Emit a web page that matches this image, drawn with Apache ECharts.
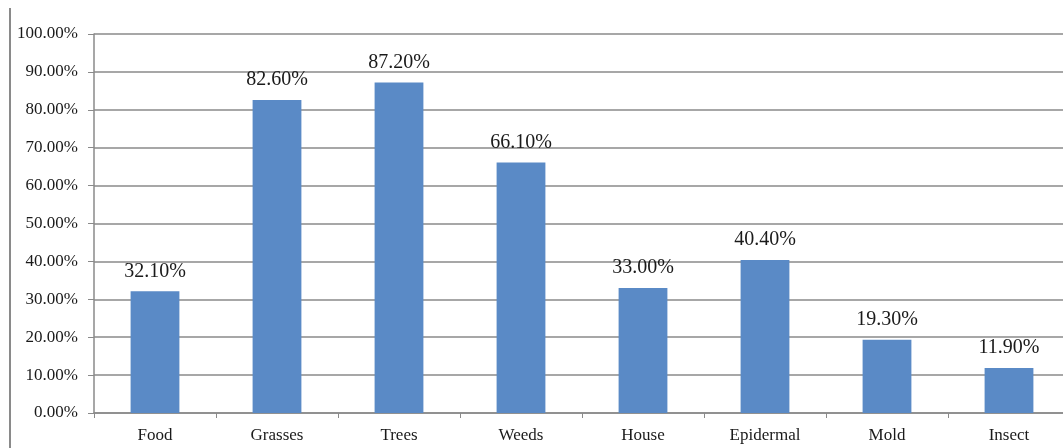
<!DOCTYPE html>
<html>
<head>
<meta charset="utf-8">
<script src="https://cdn.jsdelivr.net/npm/echarts@6/dist/echarts.min.js"></script>
<style>
  html, body { margin: 0; padding: 0; background: #fff; }
  #chart { width: 1063px; height: 448px; }
</style>
</head>
<body>
<div id="chart"></div>
<script>
// categories and values
var categories = ["Food", "Grasses", "Trees", "Weeds", "House", "Epidermal", "Mold", "Insect"];
var rates = [0.321, 0.826, 0.872, 0.661, 0.33, 0.404, 0.193, 0.119];
var yTicks = { min: 0, max: 1, interval: 0.1 };

var fontFamily = "'Liberation Serif', 'DejaVu Serif', serif";
var myChart = echarts.init(document.getElementById("chart"));

var option = {
  animation: false,
  textStyle: { fontFamily: fontFamily },
  // plot area runs a bit past the right edge, like the original
  grid: {
    left: 94,
    width: 976,
    top: 34,
    bottom: 35,
    outerBoundsMode: "none",
  },
  graphic: [
    {
      type: "line",
      shape: { x1: 10, y1: 8, x2: 10, y2: 448 },
      style: { stroke: "#8a8a8a", lineWidth: 2 },
    },
  ],
  xAxis: {
    type: "category",
    data: categories,
    axisLine: { lineStyle: { color: "#8a8a8a", width: 1.5 } },
    axisTick: { show: true, length: 5, lineStyle: { color: "#8a8a8a" } },
    axisLabel: {
      color: "#1a1a1a",
      fontSize: 17,
      fontFamily: fontFamily,
      margin: 14,
    },
  },
  yAxis: {
    type: "value",
    min: yTicks.min,
    max: yTicks.max,
    interval: yTicks.interval,
    axisLine: { show: true, lineStyle: { color: "#8a8a8a", width: 1.5 } },
    axisTick: { show: true, length: 6, lineStyle: { color: "#8a8a8a" } },
    splitLine: { lineStyle: { color: "#8a8a8a", width: 1.5 } },
    axisLabel: {
      color: "#1a1a1a",
      fontSize: 17,
      fontFamily: fontFamily,
      margin: 16,
      formatter: function (v) {
        return (v * 100).toFixed(2) + "%";
      },
    },
  },
  series: [
    {
      type: "bar",
      data: rates,
      barWidth: "40%",
      itemStyle: { color: "#5a8ac6" },
      label: {
        show: true,
        position: "top",
        distance: 10,
        color: "#1a1a1a",
        fontSize: 20,
        fontFamily: fontFamily,
        formatter: function (p) {
          return (p.value * 100).toFixed(2) + "%";
        },
      },
    },
  ],
};

myChart.setOption(option);
</script>
</body>
</html>
